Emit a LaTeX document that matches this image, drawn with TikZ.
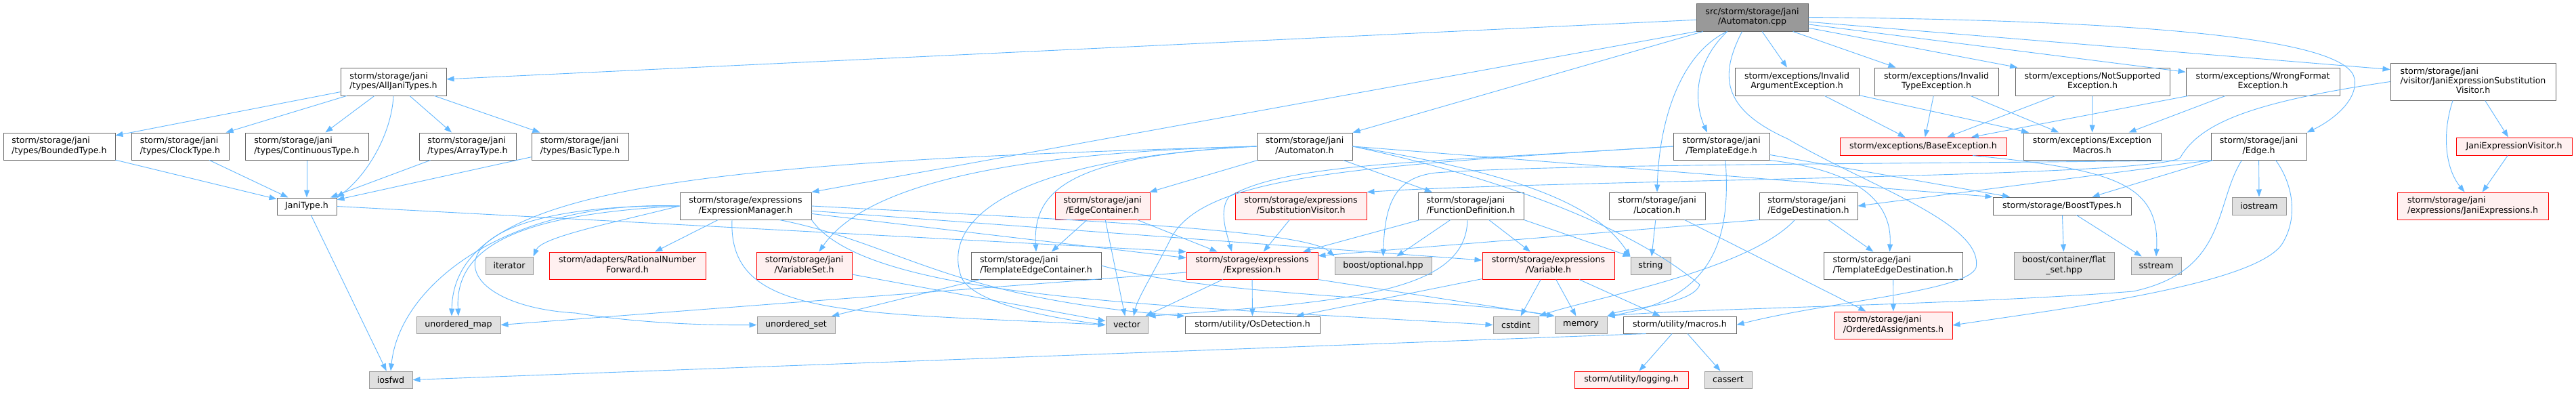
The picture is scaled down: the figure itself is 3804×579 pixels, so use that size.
\documentclass[tikz,border=0pt]{standalone}
\usepackage{fontspec}
\setmainfont{DejaVu Sans}
\usetikzlibrary{arrows.meta}
\definecolor{edgec}{HTML}{63B8FF}
\definecolor{greyforty}{HTML}{666666}
\definecolor{greysixty}{HTML}{999999}
\definecolor{extfill}{HTML}{E0E0E0}
\definecolor{redfill}{HTML}{FFF0F0}
\definecolor{redline}{HTML}{FF0000}
\newcommand{\ltwo}[2]{\begin{tabular}{@{}l@{}}#1\\\multicolumn{1}{@{}c@{}}{#2}\end{tabular}}
\newcommand{\lthree}[3]{\begin{tabular}{@{}l@{}}#1\\#2\\\multicolumn{1}{@{}c@{}}{#3}\end{tabular}}
\begin{document}
\begin{tikzpicture}[x=1pt,y=-1pt,
  nb/.style={draw=greyforty, fill=white, line width=1pt, inner sep=0pt, text=black, font=\fontsize{12.6}{14.3}\selectfont},
  rootb/.style={nb, fill=greysixty},
  extb/.style={nb, draw=greysixty, fill=extfill},
  redb/.style={nb, draw=redline, fill=redfill},
  sz/.style 2 args={minimum width=#1, minimum height=#2},
  e/.style={draw=edgec, line width=0.9pt, -{Triangle[length=11pt,width=8pt]}},
]
\useasboundingbox (0,0) rectangle (3804,579);
\fill[white] (0,0) rectangle (3804,579);

% row 1
\node[rootb,sz={165pt}{41pt}] (root) at (2587.5,25.5) {\ltwo{src/storm/storage/jani}{/Automaton.cpp}};
% row 2
\node[nb,sz={156pt}{41pt}] (alljani) at (581,120.5) {\ltwo{storm/storage/jani}{/types/AllJaniTypes.h}};
\node[nb,sz={183pt}{41pt}] (invarg) at (2653.5,120.5) {\ltwo{storm/exceptions/Invalid}{ArgumentException.h}};
\node[nb,sz={183pt}{41pt}] (invtype) at (2859.5,120.5) {\ltwo{storm/exceptions/Invalid}{TypeException.h}};
\node[nb,sz={228pt}{41pt}] (notsup) at (3090,120.5) {\ltwo{storm/exceptions/NotSupported}{Exception.h}};
\node[nb,sz={227pt}{41pt}] (wrongfmt) at (3341.5,120.5) {\ltwo{storm/exceptions/WrongFormat}{Exception.h}};
\node[nb,sz={244pt}{55pt}] (jesv) at (3652,120.5) {\lthree{storm/storage/jani}{/visitor/JaniExpressionSubstitution}{Visitor.h}};
% row 3
\node[nb,sz={165pt}{40pt}] (bounded) at (87.5,216) {\ltwo{storm/storage/jani}{/types/BoundedType.h}};
\node[nb,sz={144pt}{40pt}] (clock) at (266,216) {\ltwo{storm/storage/jani}{/types/ClockType.h}};
\node[nb,sz={182pt}{40pt}] (cont) at (453,216) {\ltwo{storm/storage/jani}{/types/ContinuousType.h}};
\node[nb,sz={143pt}{40pt}] (array) at (690.5,216) {\ltwo{storm/storage/jani}{/types/ArrayType.h}};
\node[nb,sz={143pt}{40pt}] (basic) at (856.5,216) {\ltwo{storm/storage/jani}{/types/BasicType.h}};
\node[nb,sz={141pt}{40pt}] (auth) at (1926.5,216) {\ltwo{storm/storage/jani}{/Automaton.h}};
\node[nb,sz={142pt}{40pt}] (te) at (2542,216) {\ltwo{storm/storage/jani}{/TemplateEdge.h}};
\node[redb,sz={246pt}{26pt}] (baseexc) at (2840,216) {storm/exceptions/BaseException.h};
\node[nb,sz={203pt}{40pt}] (excmacros) at (3089.5,216) {\ltwo{storm/exceptions/Exception}{Macros.h}};
\node[nb,sz={141pt}{40pt}] (edge) at (3335.5,216) {\ltwo{storm/storage/jani}{/Edge.h}};
\node[redb,sz={171pt}{26pt}] (jev) at (3712.5,216) {JaniExpressionVisitor.h};
% row 4
\node[nb,sz={88pt}{25pt}] (janitype) at (453,304.5) {JaniType.h};
\node[nb,sz={194pt}{40pt}] (em) at (1101,304) {\ltwo{storm/storage/expressions}{/ExpressionManager.h}};
\node[redb,sz={140pt}{40pt}] (edgec) at (1628,304) {\ltwo{storm/storage/jani}{/EdgeContainer.h}};
\node[redb,sz={194pt}{40pt}] (substv) at (1921,304) {\ltwo{storm/storage/expressions}{/SubstitutionVisitor.h}};
\node[nb,sz={156pt}{40pt}] (funcdef) at (2172,304) {\ltwo{storm/storage/jani}{/FunctionDefinition.h}};
\node[nb,sz={142pt}{40pt}] (loc) at (2447,304) {\ltwo{storm/storage/jani}{/Location.h}};
\node[nb,sz={145pt}{40pt}] (edgedest) at (2670.5,304) {\ltwo{storm/storage/jani}{/EdgeDestination.h}};
\node[nb,sz={204pt}{26pt}] (boost) at (3045,304) {storm/storage/BoostTypes.h};
\node[extb,sz={80pt}{26pt}] (iostream) at (3336,304) {iostream};
\node[redb,sz={223pt}{40pt}] (janiexprs) at (3651.5,304) {\ltwo{storm/storage/jani}{/expressions/JaniExpressions.h}};
% row 5
\node[extb,sz={70pt}{26pt}] (iterator) at (752,392) {iterator};
\node[redb,sz={231pt}{40pt}] (rnf) at (926.5,392) {\ltwo{storm/adapters/RationalNumber}{Forward.h}};
\node[redb,sz={141pt}{40pt}] (varset) at (1187.5,392) {\ltwo{storm/storage/jani}{/VariableSet.h}};
\node[nb,sz={192pt}{40pt}] (tec) at (1530,392) {\ltwo{storm/storage/jani}{/TemplateEdgeContainer.h}};
\node[redb,sz={194pt}{40pt}] (expr) at (1849,392) {\ltwo{storm/storage/expressions}{/Expression.h}};
\node[extb,sz={143pt}{26pt}] (bopt) at (2042.5,392) {boost/optional.hpp};
\node[redb,sz={195pt}{40pt}] (var) at (2286.5,392) {\ltwo{storm/storage/expressions}{/Variable.h}};
\node[extb,sz={59pt}{26pt}] (string) at (2437.5,392) {string};
\node[nb,sz={205pt}{40pt}] (ted) at (2795.5,392) {\ltwo{storm/storage/jani}{/TemplateEdgeDestination.h}};
\node[extb,sz={148pt}{40pt}] (flat) at (3048,392) {\ltwo{boost/container/flat}{\_set.hpp}};
\node[extb,sz={74pt}{26pt}] (sstream) at (3184,392) {sstream};
% row 6
\node[extb,sz={124pt}{25pt}] (umap) at (677,479.5) {unordered\_map};
\node[extb,sz={115pt}{25pt}] (uset) at (1175.5,479.5) {unordered\_set};
\node[extb,sz={62pt}{25pt}] (vector) at (1664,479.5) {vector};
\node[nb,sz={199pt}{25pt}] (osdet) at (1849.5,479.5) {storm/utility/OsDetection.h};
\node[extb,sz={67pt}{25pt}] (cstdint) at (2238.5,479.5) {cstdint};
\node[extb,sz={77pt}{25pt}] (memory) at (2334.5,479.5) {memory};
\node[nb,sz={167pt}{25pt}] (macros) at (2480.5,479.5) {storm/utility/macros.h};
\node[redb,sz={174pt}{40pt}] (oa) at (2796,480) {\ltwo{storm/storage/jani}{/OrderedAssignments.h}};
% row 7
\node[extb,sz={64pt}{25pt}] (iosfwd) at (577,560.5) {iosfwd};
\node[redb,sz={168pt}{25pt}] (logging) at (2409,560.5) {storm/utility/logging.h};
\node[extb,sz={70pt}{25pt}] (cassert) at (2552,560.5) {cassert};

% ---- edges from root
\draw[e] (root) -- (alljani);
\draw[e] (root.south west) -- (em.north east);
\draw[e] (root) -- (auth);
\draw[e] ([xshift=-37pt]root.south) .. controls (2495,100) and (2505,160) .. ([xshift=-21pt]te.north);
\draw[e] ([xshift=-37pt]root.south) .. controls (2480,80) and (2450,180) .. (loc.north);
\draw[e] (root) -- (invarg);
\draw[e] (root) -- (invtype);
\draw[e] (root) -- (notsup);
\draw[e] (root) -- (wrongfmt);
\draw[e] (root) -- ([yshift=-10pt]jesv.north west);
\draw[e] (root.east) .. controls (3200,30) and (3470,60) .. (3477,117) .. controls (3482,150) and (3440,180) .. (edge.north east);
\draw[e] ([xshift=-15pt]root.south) .. controls (2540,110) and (2540,160) .. (2640,205) .. controls (2760,275) and (2930,330) .. (2918,395) .. controls (2905,430) and (2700,445) .. (macros.east);

% ---- types
\draw[e] (alljani) -- (bounded);
\draw[e] (alljani) -- (clock);
\draw[e] (alljani) -- (cont);
\draw[e] (alljani) -- (array);
\draw[e] (alljani) -- (basic);
\draw[e] (alljani.south) .. controls (578,200) and (540,260) .. (janitype.north east);
\draw[e] (bounded) -- (janitype);
\draw[e] (clock) -- (janitype);
\draw[e] (cont) -- (janitype);
\draw[e] (array) -- (janitype);
\draw[e] (basic) -- (janitype);
\draw[e] (janitype) -- (iosfwd);
\draw[e] (janitype.east) -- (expr.north west);

% ---- exceptions
\draw[e] (invarg) -- (baseexc);
\draw[e] (invarg) -- (excmacros);
\draw[e] (invtype) -- (baseexc);
\draw[e] (invtype) -- (excmacros);
\draw[e] (notsup) -- (baseexc);
\draw[e] (notsup) -- (excmacros);
\draw[e] (wrongfmt) -- (baseexc);
\draw[e] (wrongfmt) -- (excmacros);
\draw[e] ([xshift=73pt]baseexc.south) .. controls (3120,250) and (3190,270) .. (sstream.north);

% ---- visitor
\draw[e] (jesv) -- (jev);
\draw[e] ([xshift=-30pt]jesv.south) .. controls (3605,200) and (3612,250) .. ([xshift=-12pt]janiexprs.north);
\draw[e] (jev) -- (janiexprs);
\draw[e] (jesv.west) .. controls (3330,150) and (3250,180) .. (3220,232) .. controls (3200,262) and (2300,265) .. (substv.north east);

% ---- Automaton.h
\draw[e] (auth) -- (edgec);
\draw[e] (auth) -- (funcdef);
\draw[e] (auth.west) .. controls (1580,230) and (1525,280) .. (tec.north);
\draw[e] (auth.west) .. controls (1500,225) and (1280,270) .. ([xshift=22pt]varset.north);
\draw[e] (auth.west) .. controls (1480,235) and (1390,330) .. (1420,410) .. controls (1440,450) and (1560,470) .. (vector.west);
\draw[e] (auth.west) .. controls (1000,240) and (670,280) .. ([xshift=-10pt]umap.north);
\draw[e] (auth.east) -- (boost.north west);
\draw[e] (auth.east) .. controls (2200,250) and (2350,290) .. (string.north west);
\draw[e] (auth.east) .. controls (2250,270) and (2420,345) .. (2510,420) .. controls (2500,450) and (2400,455) .. (memory.north east);

% ---- ExpressionManager
\draw[e] (em) -- (rnf);
\draw[e] (em.west) .. controls (900,330) and (800,350) .. (iterator.north east);
\draw[e] (em.west) .. controls (800,315) and (670,350) .. (umap.north);
\draw[e] (em.west) .. controls (750,295) and (590,420) .. (iosfwd.north);
\draw[e] (em.west) .. controls (620,300) and (640,450) .. (850,462) .. controls (950,478) and (1050,480) .. (uset.west);
\draw[e] ([xshift=-20pt]em.south) .. controls (1075,470) and (1250,460) .. (vector.west);
\draw[e] (em) -- (expr);
\draw[e] (em) -- ([yshift=8pt]var.west);
\draw[e] (em.east) .. controls (1600,325) and (1930,340) .. (bopt.north west);
\draw[e] ([xshift=50pt]em.south) .. controls (1330,360) and (1400,440) .. (osdet.north west);
\draw[e] (em.south east) .. controls (1280,440) and (1700,450) .. (cstdint.west);

% ---- jani containers
\draw[e] (edgec) -- (tec);
\draw[e] (edgec) -- (expr);
\draw[e] (edgec) -- (vector);
\draw[e] (tec) -- (uset);
\draw[e] (tec.east) .. controls (1800,440) and (2150,440) .. (memory.north west);
\draw[e] (varset) -- (vector);
\draw[e] (substv) -- (expr);

% ---- FunctionDefinition, Location, EdgeDestination
\draw[e] (funcdef) -- (expr);
\draw[e] (funcdef) -- (bopt);
\draw[e] (funcdef) -- (var);
\draw[e] (funcdef.south east) -- (string.north west);
\draw[e] ([xshift=-5pt]funcdef.south) .. controls (2165,430) and (2000,445) .. (vector.north east);
\draw[e] (loc) -- (string);
\draw[e] (loc) -- (oa);
\draw[e] (edgedest.south west) -- ([yshift=-6pt]expr.north east);
\draw[e] (edgedest) -- (ted);
\draw[e] ([xshift=-20pt]edgedest.south) .. controls (2580,400) and (2350,440) .. (cstdint.north east);

% ---- TemplateEdge
\draw[e] (te.south east) .. controls (2730,250) and (2795,290) .. ([xshift=-5pt]ted.north);
\draw[e] (te.west) .. controls (2100,240) and (1900,240) .. (1815,290) .. controls (1800,310) and (1810,340) .. ([xshift=-30pt]expr.north);
\draw[e] (te.west) .. controls (2000,245) and (1780,260) .. (1730,350) .. controls (1705,400) and (1680,440) .. ([xshift=10pt]vector.north);
\draw[e] (te) -- (boost);
\draw[e] ([xshift=6pt]te.south) .. controls (2555,340) and (2540,440) .. (memory.north east);
\draw[e] (ted) -- (oa);

% ---- Expression, Variable
\draw[e] (expr) -- (vector);
\draw[e] (expr) -- (osdet);
\draw[e] ([yshift=-10pt]expr.west) -- (umap.east);
\draw[e] (expr.south east) -- (memory.north west);
\draw[e] (var) -- (cstdint);
\draw[e] (var) -- (memory);
\draw[e] (var) -- (macros);
\draw[e] (var) -- (osdet);

% ---- macros
\draw[e] (macros) -- (logging);
\draw[e] (macros) -- (cassert);
\draw[e] ([xshift=-50pt]macros.south) -- (iosfwd.east);

% ---- BoostTypes, Edge
\draw[e] (boost) -- (flat);
\draw[e] (boost) -- (sstream);
\draw[e] (edge.south west) -- (edgedest.east);
\draw[e] (edge) -- (boost);
\draw[e] (edge) -- (iostream);
\draw[e] ([xshift=-25pt]edge.south) .. controls (3270,300) and (3290,400) .. (3150,430) .. controls (2900,450) and (2500,455) .. (memory.north east);
\draw[e] ([xshift=25pt]edge.south) .. controls (3385,270) and (3395,320) .. (3370,360) .. controls (3330,420) and (3050,455) .. (oa.east);
\draw[e] (edge.south west) .. controls (2800,242) and (2300,242) .. (2120,255) .. controls (2060,262) and (2045,300) .. (bopt.north);
\end{tikzpicture}
\end{document}
